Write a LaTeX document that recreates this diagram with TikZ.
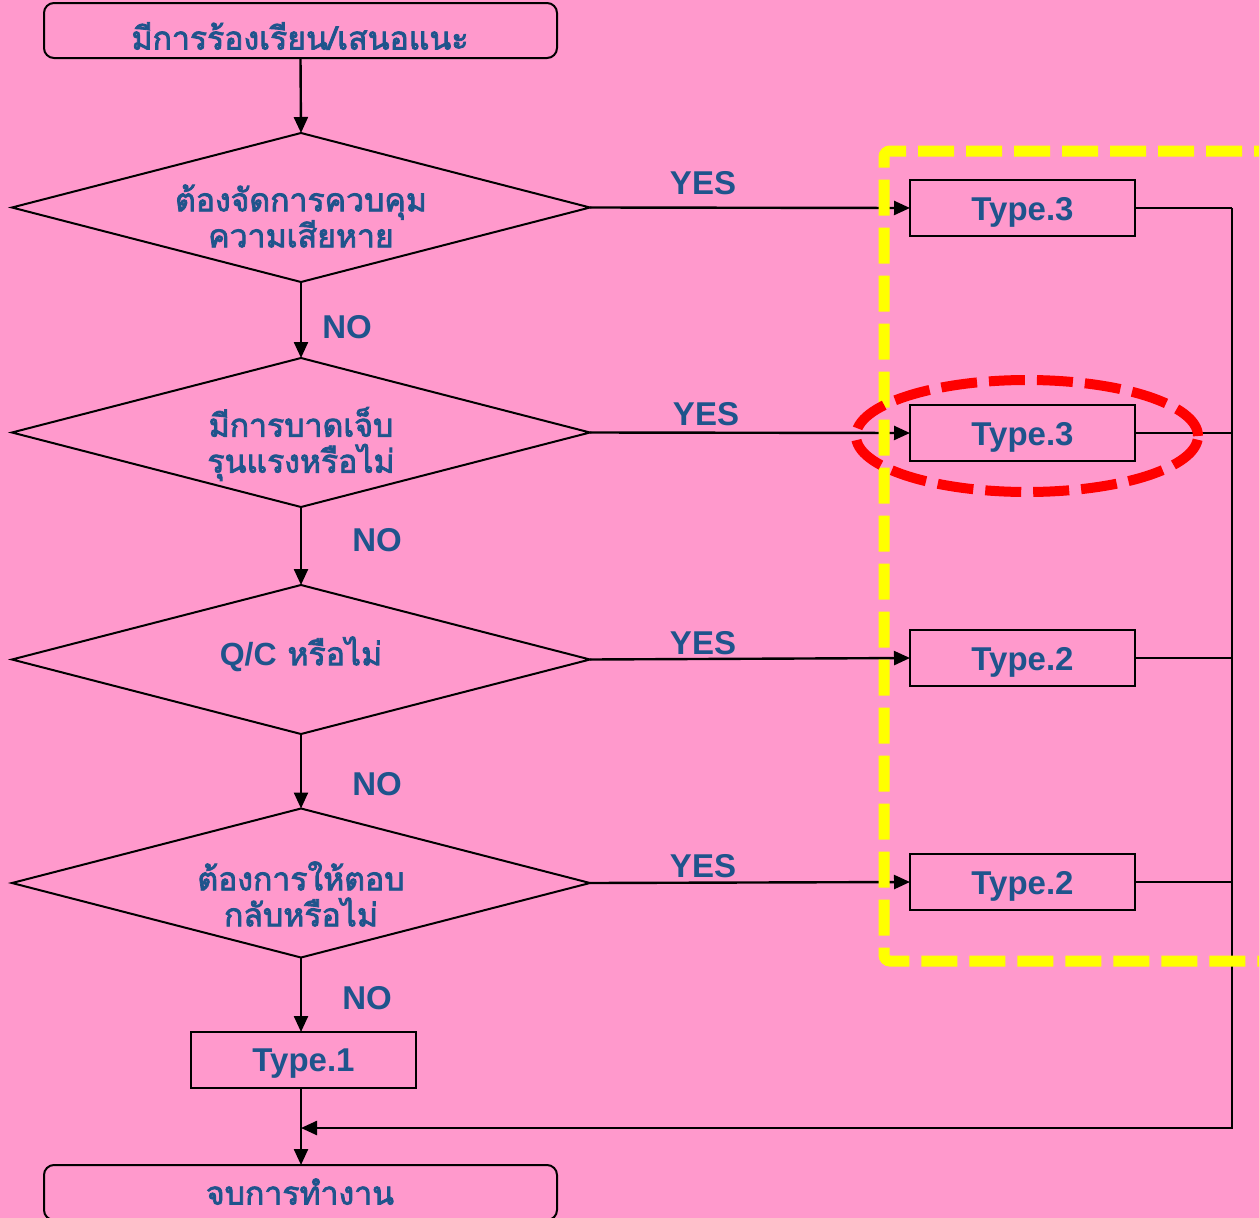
\documentclass[tikz,border=0pt]{standalone}
\usepackage{fontspec}
\newfontfamily\thaifont[Script=Thai,FakeBold=2.5]{Loma}
\newfontfamily\latinf{Liberation Sans}
\usetikzlibrary{arrows.meta,shapes.geometric}
\definecolor{bg}{RGB}{255,153,204}
\definecolor{txt}{RGB}{31,84,140}
\definecolor{ylw}{RGB}{255,255,0}
\definecolor{rd}{RGB}{255,0,0}
\newcommand{\lat}[1]{{\latinf\bfseries #1}}
\begin{document}
\begin{tikzpicture}[x=1pt,y=-1pt,
  lab/.style={font=\thaifont\fontsize{32}{36}\selectfont, text=txt, align=center, inner sep=0pt},
  latlab/.style={font=\latinf\bfseries\fontsize{33}{37}\selectfont, text=txt, inner sep=0pt},
  typebox/.style={draw, line width=2pt, minimum width=225pt, minimum height=56pt, inner sep=0pt, outer sep=0pt},
  term/.style={draw, rounded corners=10pt, line width=2pt, minimum width=513pt, minimum height=55pt, inner sep=0pt, outer sep=0pt},
  dia/.style={draw, diamond, aspect=3.88, line width=2pt, minimum width=578pt, minimum height=149pt, inner sep=0pt, outer sep=0pt},
  arr/.style={line width=2.4pt, -{Triangle[length=16pt,width=14pt]}},
  thin/.style={line width=1.8pt}]
\useasboundingbox (0,0) rectangle (1259,1218);
\clip (0,0) rectangle (1259,1218);
\fill[bg] (0,0) rectangle (1259,1218);

% terminals
\node[term] (s) at (300.5,30.5) {};
\node[lab] (st) at (300,36) {มีการร้องเรียน/เสนอแนะ};
\node[term] (e) at (300.5,1192.5) {};
\node[lab, text depth=3pt] (et) at (300,1193) {จบการทำงาน};

% decisions
\node[dia] (d1) at (301,207.5) {};
\node[lab] (d1t) at (301,216) {ต้องจัดการควบคุม\\ความเสียหาย};
\node[dia] (d2) at (301,432.5) {};
\node[lab] (d2t) at (301,444) {มีการบาดเจ็บ\\รุนแรงหรือไม่};
\node[dia] (d3) at (301,659.5) {};
\node[lab] (d3t) at (301,654) {\lat{Q/C} หรือไม่};
\node[dia] (d4) at (301,883) {};
\node[lab] (d4t) at (301,894) {ต้องการให้ตอบ\\กลับหรือไม่};

% type boxes
\node[typebox] (t1) at (1022.5,208) {};
\node[latlab] (t1t) at (1022.5,212) {Type.3};
\node[typebox] (t2) at (1022.5,433) {};
\node[latlab] (t2t) at (1022.5,437) {Type.3};
\node[typebox] (t3) at (1022.5,658) {};
\node[latlab] (t3t) at (1022.5,662) {Type.2};
\node[typebox] (t4) at (1022.5,882) {};
\node[latlab] (t4t) at (1022.5,886) {Type.2};
\node[typebox] (ty1) at (303.5,1060) {};
\node[latlab] (ty1t) at (303.5,1064) {Type.1};

% labels
\node[latlab] (y1) at (703,183) {YES};
\node[latlab] (y2) at (706,414) {YES};
\node[latlab] (y3) at (703,643) {YES};
\node[latlab] (y4) at (703,866) {YES};
\node[latlab] (n1) at (347,327) {NO};
\node[latlab] (n2) at (377,540) {NO};
\node[latlab] (n3) at (377,784) {NO};
\node[latlab] (n4) at (367,998) {NO};

% vertical flow
\draw[arr] (s.south) -- (d1.north);
\draw[arr] (d1.south) -- (d2.north);
\draw[arr] (d2.south) -- (d3.north);
\draw[arr] (d3.south) -- (d4.north);
\draw[arr] (d4.south) -- (d4.south |- ty1.north);
\draw[arr] (ty1.south -| 301,0) -- (e.north -| 301,0);

% yes arrows
\draw[arr] (d1.east) -- (t1.west);
\draw[arr] (d2.east) -- (t2.west);
\draw[arr] (d3.east) -- (t3.west);
\draw[arr] (d4.east) -- (t4.west);

% return lines
\coordinate (rtop) at (1232,208);
\coordinate (rbot) at (1232,1128);
\coordinate (m) at (301,1128);
\draw[thin] (t1.east) -- (t1.east -| rtop);
\draw[thin] (t2.east) -- (t2.east -| rtop);
\draw[thin] (t3.east) -- (t3.east -| rtop);
\draw[thin] (t4.east) -- (t4.east -| rtop);
\draw[line width=2.4pt, -{Triangle[length=16pt,width=14pt]}] (rtop) -- (rbot) -- (m);

% yellow dashed frame
\draw[ylw, line width=11pt, dash pattern=on 36pt off 12pt, rounded corners=6pt] (1290,151) -- (884,151) -- (884,961) -- (1290,961);

% red dashed ellipse
\draw[rd, line width=10pt, dash pattern=on 36pt off 12pt] (1027,436) ellipse [x radius=171pt, y radius=56pt];
\end{tikzpicture}
\end{document}
